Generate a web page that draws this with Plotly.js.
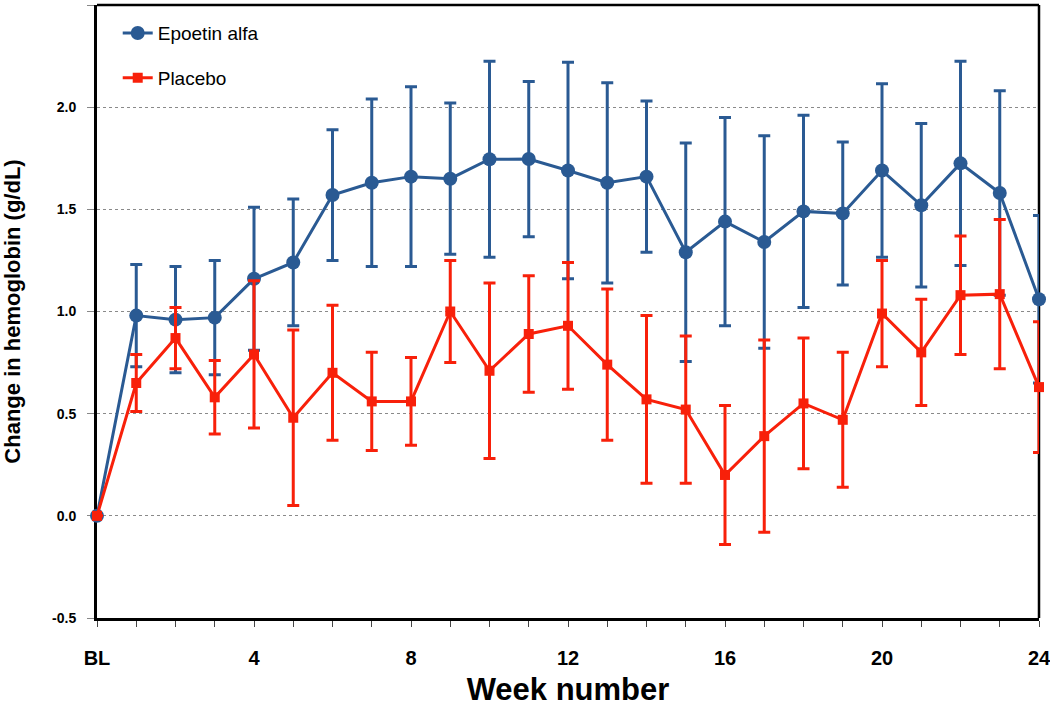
<!DOCTYPE html>
<html>
<head>
<meta charset="utf-8">
<script src="https://cdn.plot.ly/plotly-3.0.1.min.js"></script>
<style>html,body{margin:0;padding:0;background:#fff;}#chart{width:1050px;height:707px;}</style>
</head>
<body>
<div id="chart"></div>
<script>
const weeks = [0,1,2,3,4,5,6,7,8,9,10,11,12,13,14,15,16,17,18,19,20,21,22,23,24];
const epoetin = [0,0.98,0.96,0.97,1.16,1.24,1.57,1.63,1.66,1.65,1.745,1.746,1.69,1.63,1.66,1.29,1.44,1.34,1.49,1.48,1.69,1.52,1.725,1.58,1.06];
const epoetinErr = [null,0.25,0.26,0.28,0.35,0.31,0.32,0.41,0.44,0.37,0.48,0.38,0.53,0.49,0.37,0.535,0.51,0.52,0.47,0.35,0.425,0.40,0.50,0.50,0.41];
const placebo = [0,0.65,0.87,0.58,0.79,0.48,0.70,0.56,0.56,1.00,0.71,0.89,0.93,0.74,0.57,0.52,0.20,0.39,0.55,0.47,0.99,0.80,1.08,1.085,0.63];
const placeboErr = [null,0.14,0.15,0.18,0.36,0.43,0.33,0.24,0.215,0.25,0.43,0.285,0.31,0.37,0.41,0.36,0.34,0.47,0.32,0.33,0.26,0.26,0.29,0.365,0.32];
const xTickVals = [0,4,8,12,16,20,24];
const xTickText = ['BL','4','8','12','16','20','24'];
const yTickVals = [-0.5,0,0.5,1,1.5,2,2.5];
const yTickText = ['-0.5','0.0','0.5','1.0','1.5','2.0','2.5'];
const seriesNames = ['Epoetin alfa','Placebo'];

const BLUE = '#2a5a93';
const RED = '#f8200a';
const FONT = 'Liberation Sans, Arial, Helvetica, sans-serif';

const traces = [
  {
    x: weeks, y: epoetin, name: seriesNames[0], type: 'scatter', mode: 'lines+markers',
    legendgroup: 'a', cliponaxis: false,
    line: {color: BLUE, width: 3},
    marker: {color: BLUE, size: 14, symbol: 'circle'},
    error_y: {type: 'data', array: epoetinErr, visible: true, color: BLUE, thickness: 3, width: 6}
  },
  {
    x: weeks, y: placebo, name: seriesNames[1], type: 'scatter', mode: 'lines+markers',
    legendgroup: 'b', cliponaxis: false,
    line: {color: RED, width: 3},
    marker: {color: RED, size: 10, symbol: 'square'},
    error_y: {type: 'data', array: placeboErr, visible: true, color: RED, thickness: 3, width: 6}
  }
];

const layout = {
  width: 1050, height: 707,
  margin: {l: 97, r: 11, t: 5, b: 89},
  paper_bgcolor: '#fff', plot_bgcolor: '#fff',
  font: {family: FONT, color: '#000'},
  showlegend: true,
  legend: {
    x: 0.022, y: 0.985, xanchor: 'left', yanchor: 'top',
    bgcolor: 'rgba(0,0,0,0)', font: {family: FONT, size: 19, color: '#000'},
    traceorder: 'grouped', tracegroupgap: 17
  },
  xaxis: {
    range: [0, 24], fixedrange: true,
    tickmode: 'array', tickvals: xTickVals, ticktext: xTickText,
    ticklabeloverflow: 'allow',
    ticks: 'outside', ticklen: 6, tickwidth: 1, tickcolor: '#444',
    minor: {dtick: 1, tick0: 0, ticks: 'outside', ticklen: 6, tickwidth: 1, tickcolor: '#444', showgrid: false},
    showgrid: false, zeroline: false,
    showline: true, linecolor: '#000', linewidth: 3, layer: 'below traces',
    tickfont: {family: FONT, size: 20, color: '#000', weight: 'bold'},
    ticklabelstandoff: 14,
    title: {text: '<b>Week number</b>', font: {family: FONT, size: 31, color: '#000'}, standoff: 12}
  },
  yaxis: {
    range: [-0.5, 2.5], fixedrange: true,
    tickmode: 'array', tickvals: yTickVals, ticktext: yTickText,
    ticks: 'outside', ticklen: 7, tickwidth: 1, tickcolor: '#888',
    showgrid: true, gridcolor: '#8a8a8a', gridwidth: 1, griddash: 'dot',
    zeroline: false,
    showline: true, linecolor: '#000', linewidth: 3, layer: 'below traces',
    tickfont: {family: FONT, size: 14, color: '#000', weight: 'bold'},
    ticklabelstandoff: 8,
    title: {text: '<b>Change in hemoglobin (g/dL)</b>', font: {family: FONT, size: 22, color: '#000'}, standoff: 30}
  },
  shapes: [
    {type: 'line', xref: 'paper', yref: 'paper', x0: 0, x1: 1, y0: 1, y1: 1, line: {color: '#000', width: 2.5}, layer: 'below'},
    {type: 'line', xref: 'paper', yref: 'paper', x0: 1, x1: 1, y0: 0, y1: 1, line: {color: '#000', width: 2.5}, layer: 'below'}
  ]
};

Plotly.newPlot('chart', traces, layout, {displayModeBar: false, staticPlot: true});
</script>
</body>
</html>
